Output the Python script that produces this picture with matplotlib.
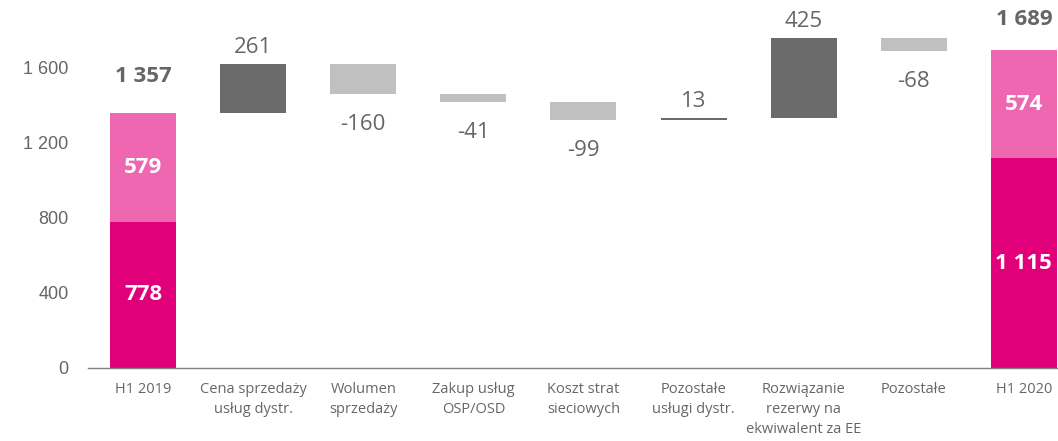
import matplotlib
matplotlib.use("Agg")
import matplotlib.pyplot as plt

categories = ["H1 2019", "Cena sprzedaży\nusług dystr.", "Wolumen\nsprzedaży",
              "Zakup usług\nOSP/OSD", "Koszt strat\nsieciowych", "Pozostałe\nusługi dystr.",
              "Rozwiązanie\nrezerwy na\nekwiwalent za EE", "Pozostałe", "H1 2020"]
start_base = [778, 579]
deltas = [261, -160, -41, -99, 13, 425, -68]
end_base = [1115, 574]
start_total_label = "1 357"
end_total_label = "1 689"
yticks = [0, 400, 800, 1200, 1600]
ytick_labels = ["0", "400", "800", "1 200", "1 600"]

C_DARK = "#E2007A"
C_PINK = "#EE67B0"
C_UP = "#6B6B6B"
C_DOWN = "#C0C0C0"
C_TEXT = "#666666"

LABEL_FONT = ["Open Sans", "DejaVu Sans"]

fig = plt.figure(figsize=(10.58, 4.41), dpi=100)
ax = fig.add_axes([88 / 1058, 73 / 441, (1058 - 88) / 1058, 368 / 441])

W = 0.6
x = list(range(len(categories)))

# opening stacked bar
ax.bar(0, start_base[0], W, color=C_DARK)
ax.bar(0, start_base[1], W, bottom=start_base[0], color=C_PINK)
ax.text(0, start_base[0] / 2, str(start_base[0]), ha="center", va="center",
        color="white", fontsize=16, fontweight="bold", family=LABEL_FONT)
ax.text(0, start_base[0] + start_base[1] / 2, str(start_base[1]), ha="center", va="center",
        color="white", fontsize=16, fontweight="bold", family=LABEL_FONT)
top0 = sum(start_base)
ax.annotate(start_total_label, (0, top0), xytext=(0, 26), textcoords="offset points",
            ha="center", va="center", color=C_TEXT, fontsize=16, fontweight="bold",
            family=LABEL_FONT)

# floating delta bars
level = top0
for i, d in enumerate(deltas, start=1):
    bottom = level if d >= 0 else level + d
    ax.bar(i, abs(d), W, bottom=bottom, color=C_UP if d >= 0 else C_DOWN)
    if d >= 0:
        ax.annotate(str(d), (i, bottom + abs(d)), xytext=(0, 12), textcoords="offset points",
                    ha="center", va="center", color=C_TEXT, fontsize=16, family=LABEL_FONT)
    else:
        ax.annotate(str(d), (i, bottom), xytext=(0, -22), textcoords="offset points",
                    ha="center", va="center", color=C_TEXT, fontsize=16, family=LABEL_FONT)
    level += d

# closing stacked bar
n = len(categories) - 1
ax.bar(n, end_base[0], W, color=C_DARK)
ax.bar(n, end_base[1], W, bottom=end_base[0], color=C_PINK)
ax.text(n, end_base[0] / 2, "1 115", ha="center", va="center",
        color="white", fontsize=16, fontweight="bold", family=LABEL_FONT)
ax.text(n, end_base[0] + end_base[1] / 2, str(end_base[1]), ha="center", va="center",
        color="white", fontsize=16, fontweight="bold", family=LABEL_FONT)
ax.annotate(end_total_label, (n, sum(end_base)), xytext=(0, 22), textcoords="offset points",
            ha="center", va="center", color=C_TEXT, fontsize=16, fontweight="bold",
            family=LABEL_FONT)

ax.set_xlim(-0.5, 8.31)
ax.set_ylim(0, 1957)
for s in ["top", "right", "left"]:
    ax.spines[s].set_visible(False)
ax.spines["bottom"].set_color("#7F7F7F")
ax.spines["bottom"].set_linewidth(1)

ax.set_yticks(yticks)
ax.set_yticklabels(ytick_labels, family="Liberation Sans", fontsize=13, color=C_TEXT)
ax.tick_params(axis="y", length=0, pad=14)

ax.set_xticks(x)
ax.set_xticklabels(categories, family=LABEL_FONT, fontsize=10.5, color=C_TEXT,
                   linespacing=1.45, va="top")
ax.tick_params(axis="x", length=0, pad=10)

fig.savefig("out.png", dpi=100)
